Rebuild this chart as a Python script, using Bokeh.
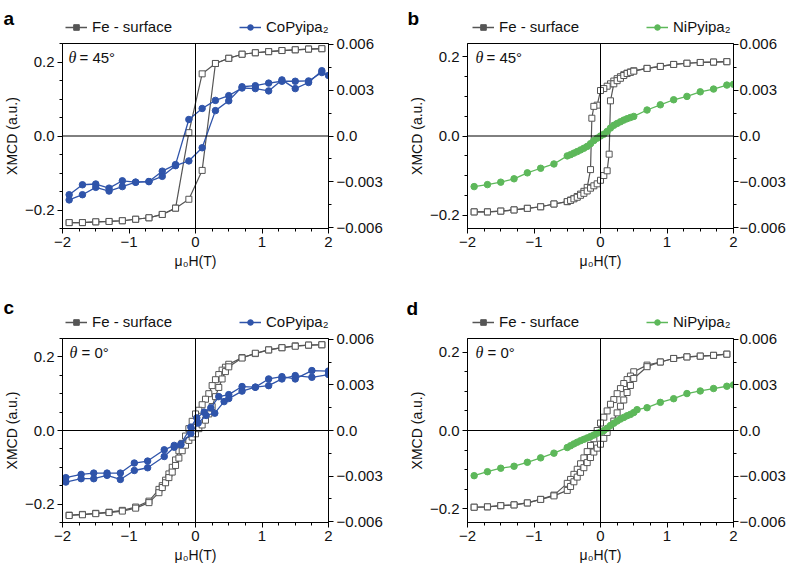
from bokeh.plotting import figure
from bokeh.models import Range1d, LinearAxis, Span, Legend, LegendItem, Label, FixedTicker
from bokeh.layouts import column, row
from bokeh.embed import file_html
from bokeh.resources import INLINE

FONT = "Liberation Sans"
FE_COLOR = "#555555"
CO_COLOR = "#2f54aa"
NI_COLOR = "#5db85a"
NAN = float("nan")

# ---------------- data ----------------
# panel a  (theta = 45 deg, CoPyipa2)
fe_a_desc_x = [1.9, 1.7, 1.5, 1.3, 1.1, 0.9, 0.7, 0.5, 0.3, 0.1, -0.1, -0.3, -0.5, -0.7, -0.9, -1.1, -1.3, -1.5, -1.7, -1.9]
fe_a_desc_y = [0.236, 0.235, 0.233, 0.231, 0.228, 0.225, 0.221, 0.21, 0.196, 0.168, 0.009, -0.195, -0.212, -0.221, -0.225, -0.229, -0.231, -0.232, -0.234, -0.234]
fe_a_asc_x = [-1.9, -1.7, -1.5, -1.3, -1.1, -0.9, -0.7, -0.5, -0.3, -0.1, 0.1, 0.3, 0.5, 0.7, 0.9, 1.1, 1.3, 1.5, 1.7, 1.9]
fe_a_asc_y = [-0.234, -0.234, -0.232, -0.231, -0.229, -0.225, -0.221, -0.212, -0.195, -0.171, -0.093, 0.196, 0.21, 0.221, 0.225, 0.228, 0.231, 0.233, 0.235, 0.236]

co_a_desc_x = [1.9, 1.7, 1.5, 1.3, 1.1, 0.9, 0.7, 0.5, 0.3, 0.1, -0.1, -0.3, -0.5, -0.7, -0.9, -1.1, -1.3, -1.5, -1.7, -1.9]
co_a_desc_y = [0.00427, 0.0035, 0.0031, 0.00367, 0.00295, 0.0031, 0.00314, 0.00264, 0.00233, 0.0018, 0.00108, -0.00187, -0.0023, -0.00298, -0.00302, -0.00293, -0.00341, -0.00314, -0.00319, -0.00384]
co_a_asc_x = [-1.9, -1.7, -1.5, -1.3, -1.1, -0.9, -0.7, -0.5, -0.3, -0.1, 0.1, 0.3, 0.5, 0.7, 0.9, 1.1, 1.3, 1.5, 1.7, 1.9, 2.0]
co_a_asc_y = [-0.00418, -0.00384, -0.00336, -0.0036, -0.00331, -0.00302, -0.00298, -0.00264, -0.00194, -0.00163, -0.00077, 0.00166, 0.0023, 0.00322, 0.00329, 0.00346, 0.00358, 0.00358, 0.0036, 0.00415, 0.00396]

# panel b  (theta = 45 deg, NiPyipa2)
fe_b_desc_x = [1.9, 1.7, 1.5, 1.3, 1.1, 0.9, 0.7, 0.5, 0.45, 0.4, 0.35, 0.3, 0.25, 0.2, 0.15, 0.1, 0.05, 0.0, -0.05, -0.1, -0.13, -0.15, -0.2, -0.25, -0.3, -0.35, -0.4, -0.45, -0.5, -0.7, -0.9, -1.1, -1.3, -1.5, -1.7, -1.9]
fe_b_desc_y = [0.188, 0.187, 0.186, 0.184, 0.181, 0.176, 0.171, 0.165, 0.162, 0.159, 0.155, 0.15, 0.145, 0.139, 0.132, 0.126, 0.12, 0.115, 0.078, 0.075, 0.045, -0.085, -0.13, -0.14, -0.147, -0.153, -0.158, -0.162, -0.166, -0.172, -0.179, -0.183, -0.187, -0.19, -0.192, -0.192]
fe_b_asc_x = [-1.9, -1.7, -1.5, -1.3, -1.1, -0.9, -0.7, -0.5, -0.45, -0.4, -0.35, -0.3, -0.25, -0.2, -0.15, -0.1, -0.05, 0.0, 0.05, 0.1, 0.13, 0.15, 0.2, 0.25, 0.3, 0.35, 0.4, 0.45, 0.5, 0.7, 0.9, 1.1, 1.3, 1.5, 1.7, 1.9]
fe_b_asc_y = [-0.192, -0.192, -0.19, -0.187, -0.183, -0.179, -0.172, -0.166, -0.163, -0.159, -0.155, -0.15, -0.145, -0.139, -0.132, -0.126, -0.121, -0.112, -0.1, -0.088, -0.046, 0.089, 0.132, 0.14, 0.146, 0.153, 0.158, 0.161, 0.164, 0.171, 0.176, 0.181, 0.184, 0.186, 0.187, 0.188]

ni_b_x = [-1.9, -1.7, -1.5, -1.3, -1.1, -0.9, -0.7, -0.5, -0.45, -0.4, -0.35, -0.3, -0.25, -0.2, -0.15, -0.1, -0.05, 0.0, 0.05, 0.1, 0.15, 0.2, 0.25, 0.3, 0.35, 0.4, 0.45, 0.5, 0.7, 0.9, 1.1, 1.3, 1.5, 1.7, 1.9, 2.0]
ni_b_y = [-0.00331, -0.00318, -0.00302, -0.0028, -0.00241, -0.00211, -0.00183, -0.0013, -0.00122, -0.00112, -0.00102, -0.00091, -0.0008, -0.00068, -0.0005, -0.0003, -0.00014, 0.0, 0.00012, 0.0003, 0.00052, 0.0007, 0.00082, 0.00093, 0.00104, 0.00113, 0.00121, 0.00128, 0.0017, 0.00204, 0.00237, 0.00259, 0.00289, 0.00307, 0.00333, 0.00338]

# panel c  (theta = 0 deg, CoPyipa2)
fe_c_desc_x = [1.9, 1.7, 1.5, 1.3, 1.1, 0.9, 0.7, 0.5, 0.45, 0.4, 0.35, 0.3, 0.25, 0.2, 0.15, 0.1, 0.05, 0.0, -0.05, -0.1, -0.15, -0.2, -0.25, -0.3, -0.35, -0.4, -0.45, -0.5, -0.55, -0.7, -0.9, -1.1, -1.3, -1.5, -1.7, -1.9]
fe_c_desc_y = [0.233, 0.232, 0.23, 0.225, 0.219, 0.209, 0.198, 0.18, 0.172, 0.164, 0.152, 0.138, 0.122, 0.1, 0.085, 0.07, 0.055, 0.045, 0.025, 0.005, -0.015, -0.035, -0.055, -0.08, -0.1, -0.118, -0.135, -0.15, -0.16, -0.192, -0.208, -0.217, -0.222, -0.225, -0.228, -0.23]
fe_c_asc_x = [-1.9, -1.7, -1.5, -1.3, -1.1, -0.9, -0.7, -0.55, -0.5, -0.45, -0.4, -0.35, -0.3, -0.25, -0.2, -0.15, -0.1, -0.05, 0.0, 0.05, 0.1, 0.15, 0.2, 0.25, 0.3, 0.35, 0.4, 0.45, 0.5, 0.7, 0.9, 1.1, 1.3, 1.5, 1.7, 1.9]
fe_c_asc_y = [-0.231, -0.229, -0.226, -0.223, -0.219, -0.211, -0.196, -0.169, -0.155, -0.142, -0.128, -0.113, -0.095, -0.075, -0.055, -0.04, -0.027, -0.018, -0.009, 0.005, 0.015, 0.028, 0.045, 0.065, 0.092, 0.117, 0.14, 0.16, 0.173, 0.197, 0.21, 0.219, 0.225, 0.229, 0.232, 0.233]

co_c_desc_x = [2.0, 1.75, 1.5, 1.3, 1.1, 0.9, 0.7, 0.5, 0.35, 0.23, 0.13, 0.02, -0.07, -0.22, -0.32, -0.47, -0.72, -0.92, -1.13, -1.33, -1.53, -1.72, -1.95]
co_c_desc_y = [0.00391, 0.00394, 0.00339, 0.00354, 0.00339, 0.00285, 0.00289, 0.00236, 0.00223, 0.00149, 0.00121, 0.00083, 0.00022, -0.00089, -0.00098, -0.00127, -0.00201, -0.00214, -0.0028, -0.0028, -0.0028, -0.00289, -0.0031]
co_c_asc_x = [-1.95, -1.72, -1.53, -1.33, -1.13, -0.92, -0.72, -0.47, -0.32, -0.22, -0.07, 0.04, 0.16, 0.29, 0.43, 0.5, 0.7, 0.9, 1.1, 1.3, 1.5, 1.75, 2.0]
co_c_asc_y = [-0.00339, -0.00317, -0.00317, -0.00295, -0.00322, -0.00263, -0.00245, -0.00171, -0.0011, -0.00095, -0.0002, 0.00049, 0.00099, 0.00114, 0.0019, 0.0021, 0.00259, 0.00285, 0.00295, 0.00339, 0.00361, 0.0035, 0.00368]

# panel d  (theta = 0 deg, NiPyipa2)
fe_d_desc_x = [1.9, 1.7, 1.5, 1.3, 1.1, 0.9, 0.7, 0.5, 0.45, 0.4, 0.35, 0.3, 0.25, 0.2, 0.15, 0.1, 0.05, 0.0, -0.05, -0.1, -0.15, -0.2, -0.25, -0.3, -0.35, -0.4, -0.45, -0.5, -0.7, -0.9, -1.1, -1.3, -1.5, -1.7, -1.9]
fe_d_desc_y = [0.195, 0.192, 0.19, 0.188, 0.184, 0.175, 0.167, 0.15, 0.139, 0.13, 0.12, 0.107, 0.094, 0.079, 0.067, 0.05, 0.034, 0.019, 0.0, -0.021, -0.038, -0.054, -0.07, -0.085, -0.099, -0.112, -0.125, -0.135, -0.165, -0.176, -0.185, -0.19, -0.192, -0.195, -0.196]
fe_d_asc_x = [-1.9, -1.7, -1.5, -1.3, -1.1, -0.9, -0.7, -0.5, -0.45, -0.4, -0.35, -0.3, -0.25, -0.2, -0.15, -0.1, -0.05, 0.0, 0.05, 0.1, 0.15, 0.2, 0.25, 0.3, 0.35, 0.4, 0.45, 0.5, 0.7, 0.9, 1.1, 1.3, 1.5, 1.7, 1.9]
fe_d_asc_y = [-0.196, -0.195, -0.192, -0.19, -0.185, -0.176, -0.167, -0.153, -0.143, -0.131, -0.119, -0.107, -0.095, -0.082, -0.069, -0.055, -0.045, -0.035, -0.02, -0.005, 0.008, 0.024, 0.045, 0.062, 0.078, 0.097, 0.115, 0.133, 0.163, 0.175, 0.184, 0.188, 0.19, 0.192, 0.195]

ni_d_x = [-1.9, -1.7, -1.5, -1.3, -1.1, -0.9, -0.7, -0.5, -0.45, -0.4, -0.35, -0.3, -0.25, -0.2, -0.15, -0.1, -0.05, 0.0, 0.05, 0.1, 0.15, 0.2, 0.25, 0.3, 0.35, 0.4, 0.45, 0.5, 0.55, 0.7, 0.9, 1.1, 1.3, 1.5, 1.7, 1.9, 2.0]
ni_d_y = [-0.00297, -0.00271, -0.00248, -0.00235, -0.00209, -0.0018, -0.00149, -0.00112, -0.001, -0.00088, -0.00077, -0.00067, -0.00058, -0.00049, -0.0004, -0.0003, -0.00018, -0.0001, 0.0, 0.00015, 0.00033, 0.00048, 0.00062, 0.00075, 0.00086, 0.00097, 0.00106, 0.00118, 0.00137, 0.0015, 0.00185, 0.00209, 0.00243, 0.0026, 0.00276, 0.00291, 0.003]

# ticks
x_major = [-2, -1, 0, 1, 2]
x_minor = [-2, -1.75, -1.5, -1.25, -1, -0.75, -0.5, -0.25, 0, 0.25, 0.5, 0.75, 1, 1.25, 1.5, 1.75, 2]
x_labels = {-2: "\u22122", -1: "\u22121", 0: "0", 1: "1", 2: "2"}
left_major = [-0.2, 0.0, 0.2]
left_minor = [-0.25, -0.2, -0.15, -0.1, -0.05, 0.0, 0.05, 0.1, 0.15, 0.2, 0.25]
left_labels = {-0.2: "\u22120.2", 0.0: "0.0", 0.2: "0.2"}
right_major = [-0.006, -0.003, 0.0, 0.003, 0.006]
right_minor = [-0.006, -0.0045, -0.003, -0.0015, 0.0, 0.0015, 0.003, 0.0045, 0.006]
right_labels = {-0.006: "\u22120.006", -0.003: "\u22120.003", 0.0: "0.0", 0.003: "0.003", 0.006: "0.006"}


def style_axis(ax):
    ax.axis_line_color = "black"
    ax.major_tick_line_color = "black"
    ax.minor_tick_line_color = "black"
    ax.major_tick_out = 5
    ax.major_tick_in = 0
    ax.minor_tick_out = 3
    ax.minor_tick_in = 0
    ax.major_label_text_font = FONT
    ax.major_label_text_font_size = "15px"
    ax.major_label_text_color = "#111111"
    ax.axis_label_text_font = FONT
    ax.axis_label_text_font_size = "14px"
    ax.axis_label_text_font_style = "normal"
    ax.axis_label_text_color = "#111111"


def header(letter, width, height, letter_x, letter_y, leg_x, mol_label, mol_color):
    h = figure(width=width, height=height, x_range=Range1d(0, width), y_range=Range1d(0, height),
               x_axis_type=None, y_axis_type=None, output_backend="svg", toolbar_location=None,
               min_border=0, min_border_left=0, min_border_right=0, min_border_top=0, min_border_bottom=0)
    h.outline_line_color = None
    h.background_fill_color = "white"
    h.border_fill_color = "white"
    fl = h.line([NAN], [NAN], line_color=FE_COLOR, line_width=1.5)
    fs = h.scatter([NAN], [NAN], marker="square", fill_color=FE_COLOR, line_color=FE_COLOR)
    ml = h.line([NAN], [NAN], line_color=mol_color, line_width=1.5)
    ms = h.scatter([NAN], [NAN], marker="circle", fill_color=mol_color, line_color=mol_color)
    lg = Legend(items=[LegendItem(label="Fe - surface", renderers=[fl, fs]),
                       LegendItem(label=mol_label, renderers=[ml, ms])],
                location=(leg_x, 0), orientation="horizontal",
                background_fill_alpha=0, border_line_alpha=0, padding=0, margin=0, spacing=0,
                glyph_width=22, glyph_height=14, label_standoff=5, label_width=147,
                label_text_font=FONT, label_text_font_size="15px", label_text_color="#111111",
                label_height=17)
    h.add_layout(lg)
    h.add_layout(Label(x=letter_x, y=letter_y, text=letter, text_font=FONT, text_font_style="bold",
                       text_font_size="19px", text_baseline="alphabetic", text_color="black"))
    return h


def panel(angle, ylim, fe_branches, mol_branches, mol_color,
          width, height, bl, br, bt, bb, theta_x, eq_x, r_standoff):
    frame_h = height - bt - bb
    p = figure(width=width, height=height, x_range=Range1d(-2, 2), y_range=Range1d(-ylim, ylim),
               output_backend="svg", toolbar_location=None,
               min_border_left=bl, min_border_right=br, min_border_top=bt, min_border_bottom=bb)
    p.extra_y_ranges = {"right": Range1d(-0.00605, 0.00605)}
    p.xgrid.visible = False
    p.ygrid.visible = False
    p.outline_line_color = "black"
    p.outline_line_width = 1
    p.background_fill_color = "white"
    p.border_fill_color = "white"

    p.xaxis.ticker = FixedTicker(ticks=x_major, minor_ticks=x_minor)
    p.xaxis.major_label_overrides = x_labels
    p.xaxis.axis_label = "\u03bc\u2080H(T)"
    p.yaxis.ticker = FixedTicker(ticks=left_major, minor_ticks=left_minor)
    p.yaxis.major_label_overrides = left_labels
    p.yaxis.axis_label = "XMCD (a.u.)"
    ra = LinearAxis(y_range_name="right", ticker=FixedTicker(ticks=right_major, minor_ticks=right_minor))
    ra.major_label_overrides = right_labels
    p.add_layout(ra, "right")
    for ax in [p.xaxis[0], p.yaxis[0], ra]:
        style_axis(ax)
    p.xaxis.major_label_standoff = 3
    p.xaxis.axis_label_standoff = 3
    p.yaxis.major_label_standoff = 3
    p.yaxis.axis_label_standoff = 2
    ra.major_label_standoff = r_standoff

    p.add_layout(Span(location=0, dimension="width", line_color="black", line_width=1))
    p.add_layout(Span(location=0, dimension="height", line_color="black", line_width=1))

    for bx, by in fe_branches:
        p.line(bx, by, line_color=FE_COLOR, line_width=1.2)
        p.scatter(bx, by, marker="square", size=6, fill_color="white", line_color=FE_COLOR, line_width=1)
    for bx, by in mol_branches:
        p.line(bx, by, line_color=mol_color, line_width=1.3, y_range_name="right")
        p.scatter(bx, by, marker="circle", size=6.5, fill_color=mol_color, line_color=mol_color,
                  y_range_name="right")

    p.add_layout(Label(x=theta_x, y=frame_h - 14, x_units="screen", y_units="screen", text="\u03b8",
                       text_font="Liberation Serif", text_font_style="italic", text_font_size="16px",
                       text_baseline="middle", text_color="#111111"))
    p.add_layout(Label(x=eq_x, y=frame_h - 14, x_units="screen", y_units="screen", text="= " + angle,
                       text_font=FONT, text_font_size="15px", text_baseline="middle", text_color="#111111"))
    return p


ha = header("a", 394, 35, 3, 16.7, 65, "CoPyipa\u2082", CO_COLOR)
hb = header("b", 394, 35, 13, 16.7, 78, "NiPyipa\u2082", NI_COLOR)
hc = header("c", 394, 50, 3, 23, 65, "CoPyipa\u2082", CO_COLOR)
hd = header("d", 394, 50, 12, 22, 78, "NiPyipa\u2082", NI_COLOR)

pa = panel("45°", 0.25, [(fe_a_desc_x, fe_a_desc_y), (fe_a_asc_x, fe_a_asc_y)],
           [(co_a_desc_x, co_a_desc_y), (co_a_asc_x, co_a_asc_y)], CO_COLOR,
           394, 245, 61, 66, 8, 52, 6, 17, 3)
pb = panel("45°", 0.234, [(fe_b_desc_x, fe_b_desc_y), (fe_b_asc_x, fe_b_asc_y)],
           [(ni_b_x, ni_b_y)], NI_COLOR,
           394, 245, 73, 55, 8, 52, 8, 19, 1)
pc = panel("0°", 0.25, [(fe_c_desc_x, fe_c_desc_y), (fe_c_asc_x, fe_c_asc_y)],
           [(co_c_desc_x, co_c_desc_y), (co_c_asc_x, co_c_asc_y)], CO_COLOR,
           394, 241, 61, 66, 8, 49, 7, 19, 3)
pd_ = panel("0°", 0.235, [(fe_d_desc_x, fe_d_desc_y), (fe_d_asc_x, fe_d_asc_y)],
            [(ni_d_x, ni_d_y)], NI_COLOR,
            394, 241, 73, 54, 8, 49, 8, 20, 1)

layout = column(row(ha, hb), row(pa, pb), row(hc, hd), row(pc, pd_))
open("out.html", "w").write(file_html(layout, INLINE))
